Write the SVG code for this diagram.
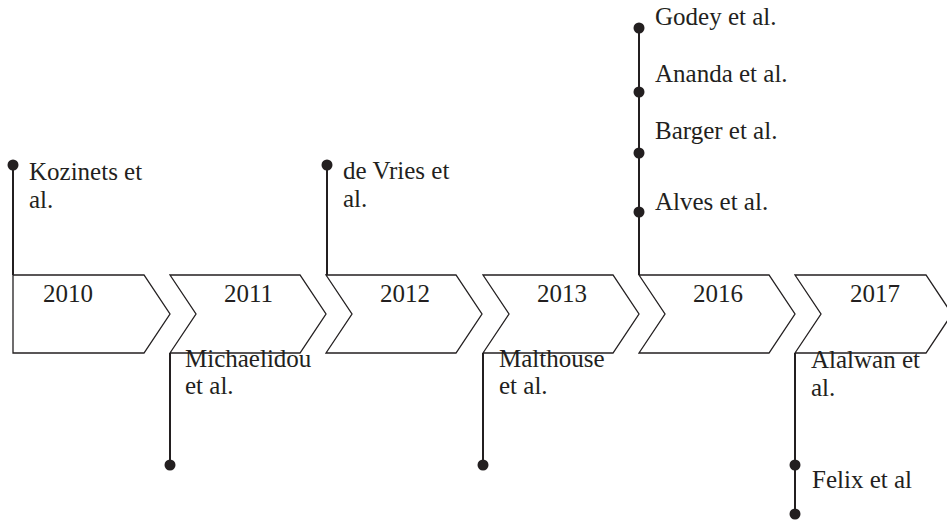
<svg xmlns="http://www.w3.org/2000/svg" width="947" height="520" viewBox="0 0 947 520">
  <defs>
    <style>
      .shape { fill: #ffffff; stroke: #231f20; stroke-width: 1.3; stroke-linejoin: miter; }
      .link { stroke: #231f20; stroke-width: 2; fill: none; }
      .dot { fill: #231f20; }
      .lbl { font-size: 25px; fill: #231f20; }
    </style>
  </defs>
  <rect width="947" height="520" fill="#ffffff"/>

  <g font-family="'Liberation Serif', 'DejaVu Serif', serif">
  <!-- year shapes -->
  <g id="y2010">
    <path class="shape" d="M13,275 H144 L170,314 L144,353 H13 Z"/>
    <text class="lbl" x="43" y="302">2010</text>
  </g>
  <g id="y2011">
    <path class="shape" d="M170,275 H300 L326,314 L300,353 H170 L196,314 Z"/>
    <text class="lbl" x="224" y="302">2011</text>
  </g>
  <g id="y2012">
    <path class="shape" d="M326,275 H456 L482,314 L456,353 H326 L352,314 Z"/>
    <text class="lbl" x="380" y="302">2012</text>
  </g>
  <g id="y2013">
    <path class="shape" d="M483,275 H613 L639,314 L613,353 H483 L509,314 Z"/>
    <text class="lbl" x="537" y="302">2013</text>
  </g>
  <g id="y2016">
    <path class="shape" d="M639,275 H769 L795,314 L769,353 H639 L665,314 Z"/>
    <text class="lbl" x="693" y="302">2016</text>
  </g>
  <g id="y2017">
    <path class="shape" d="M795,275 H926 L952,314 L926,353 H795 L821,314 Z"/>
    <text class="lbl" x="850" y="302">2017</text>
  </g>

  <!-- connectors -->
  <g id="connectors">
    <line class="link" x1="13" y1="165" x2="13" y2="275"/>
    <line class="link" x1="170" y1="353" x2="170" y2="465"/>
    <line class="link" x1="327" y1="165" x2="327" y2="275"/>
    <line class="link" x1="483" y1="353" x2="483" y2="465"/>
    <line class="link" x1="639" y1="28" x2="639" y2="275"/>
    <line class="link" x1="795" y1="353" x2="795" y2="514"/>
    <circle class="dot" cx="13" cy="165" r="5.5"/>
    <circle class="dot" cx="170" cy="465" r="5.5"/>
    <circle class="dot" cx="327" cy="165" r="5.5"/>
    <circle class="dot" cx="483" cy="465" r="5.5"/>
    <circle class="dot" cx="639" cy="28" r="5.5"/>
    <circle class="dot" cx="639" cy="92" r="5.5"/>
    <circle class="dot" cx="639" cy="153" r="5.5"/>
    <circle class="dot" cx="639" cy="212" r="5.5"/>
    <circle class="dot" cx="795" cy="465" r="5.5"/>
    <circle class="dot" cx="795" cy="514" r="5.5"/>
  </g>

  <!-- author labels -->
  <g id="kozinets">
    <text class="lbl" x="29" y="180">Kozinets et</text>
    <text class="lbl" x="29" y="208">al.</text>
  </g>
  <g id="michaelidou">
    <text class="lbl" x="185" y="367">Michaelidou</text>
    <text class="lbl" x="185" y="394">et al.</text>
  </g>
  <g id="devries">
    <text class="lbl" x="343" y="179">de Vries et</text>
    <text class="lbl" x="343" y="207">al.</text>
  </g>
  <g id="malthouse">
    <text class="lbl" x="499" y="367">Malthouse</text>
    <text class="lbl" x="499" y="394">et al.</text>
  </g>
  <g id="godey"><text class="lbl" x="655" y="25">Godey et al.</text></g>
  <g id="ananda"><text class="lbl" x="655" y="82">Ananda et al.</text></g>
  <g id="barger"><text class="lbl" x="655" y="139">Barger et al.</text></g>
  <g id="alves"><text class="lbl" x="655" y="210">Alves et al.</text></g>
  <g id="alalwan">
    <text class="lbl" x="811" y="368">Alalwan et</text>
    <text class="lbl" x="811" y="396">al.</text>
  </g>
  <g id="felix"><text class="lbl" x="812" y="488">Felix et al</text></g>
  </g>
</svg>
